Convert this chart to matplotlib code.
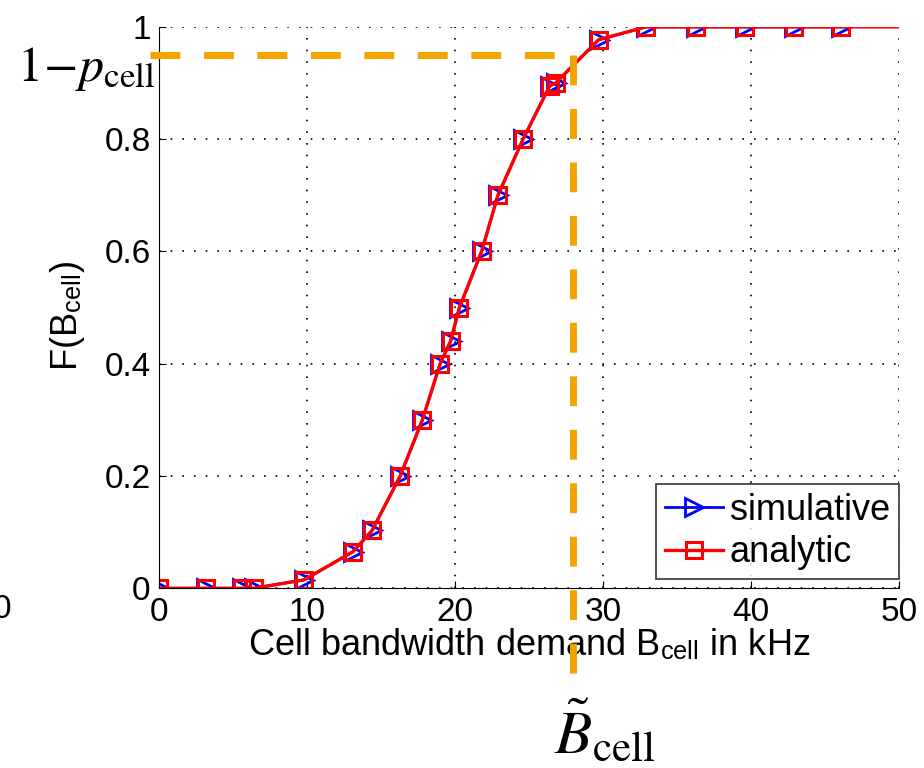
import matplotlib
matplotlib.use("Agg")
import matplotlib.pyplot as plt

# values
sim_x = [0, 3.2, 5.6, 6.4, 9.8, 13.1, 14.4, 16.3, 17.8, 19.0, 19.7, 20.3,
         21.8, 22.9, 24.6, 26.4, 26.8, 29.7, 32.9, 36.3, 39.6, 42.9, 46.1]
sim_y = [0, 0, 0, 0, 0.015, 0.065, 0.103, 0.2, 0.3, 0.4, 0.44, 0.5,
         0.6, 0.7, 0.8, 0.895, 0.9, 0.977, 1.0, 1.0, 1.0, 1.0, 1.0]
analytic_x = sim_x + [50]
analytic_y = sim_y + [1.0]

b_tilde = 28.0
p_cell = 0.05

x_ticks = [0, 10, 20, 30, 40, 50]
y_ticks = [0, 0.2, 0.4, 0.6, 0.8, 1]
y_ticklabels = ["0", "0.2", "0.4", "0.6", "0.8", "1"]

plt.rcParams["font.family"] = ["Liberation Sans", "DejaVu Sans"]
plt.rcParams["mathtext.fontset"] = "stix"

fig = plt.figure(figsize=(9.24, 7.68), dpi=100)
ax = fig.add_axes([0.172, 0.234, 0.801, 0.731])

ax.plot(sim_x, sim_y, color="blue", lw=2, marker=">", ms=13, mfc="none",
        mec="blue", mew=2, label="simulative")
ax.plot(analytic_x, analytic_y, color="red", lw=2.4, marker="s", ms=11,
        mfc="none", mec="red", mew=2.2, markevery=list(range(len(sim_x))),
        label="analytic")

orange = "#F5A300"
dash = (0, (4.3, 3.4))
ax.plot([-0.6, b_tilde], [1 - p_cell, 1 - p_cell], color=orange, lw=5,
        linestyle=dash, clip_on=False, zorder=5)
ax.plot([b_tilde, b_tilde], [1 - p_cell, -0.165], color=orange, lw=5,
        linestyle=dash, clip_on=False, zorder=5)

ax.set_xlim(0, 50)
ax.set_ylim(0, 1)
ax.set_xticks(x_ticks)
ax.set_yticks(y_ticks)
ax.set_yticklabels(y_ticklabels)
ax.tick_params(direction="in", length=5, labelsize=24, pad=6)
ax.grid(True, color="black", linestyle=(0, (1, 6)), lw=1.2)
ax.spines["top"].set_visible(False)
ax.spines["right"].set_visible(False)

ax.set_xlabel(r"Cell bandwidth demand B$_{\mathregular{cell}}$ in kHz",
              fontsize=26, labelpad=0)
ax.set_ylabel(r"F(B$_{\mathregular{cell}}$)", fontsize=26)
ax.yaxis.set_label_coords(-0.097, 0.485)

leg = ax.legend(loc="lower right", bbox_to_anchor=(1.0, 0.016), fontsize=26,
                frameon=True, fancybox=False, edgecolor="black",
                borderaxespad=0, handlelength=1.6, handletextpad=0.2,
                borderpad=0.25, labelspacing=0.2)
leg.get_frame().set_linewidth(1.2)

fig.text(0.018, 0.894, r"$1\!-\!p_{\mathrm{cell}}$", fontsize=36, ha="left",
         va="baseline")
fig.text(0.6, 0.02, r"$\tilde{B}_{\mathrm{cell}}$", fontsize=44, ha="left",
         va="baseline")
fig.text(-0.008, 0.195, "0", fontsize=24)

fig.savefig("out.png", dpi=100)
